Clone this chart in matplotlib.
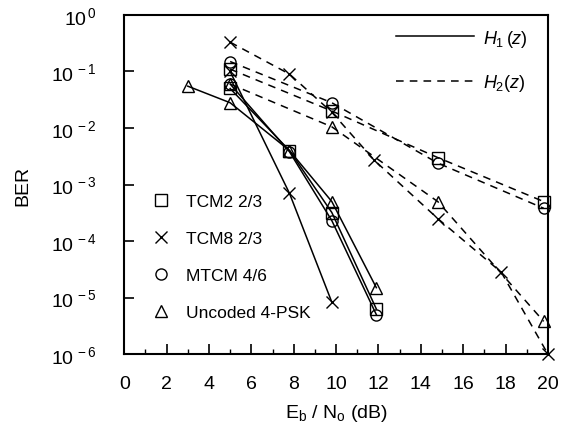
import matplotlib
matplotlib.use("Agg")
import matplotlib.pyplot as plt
from matplotlib.lines import Line2D
from matplotlib.ticker import MultipleLocator, FixedLocator, NullLocator

plt.rcParams["font.family"] = ["Liberation Sans", "DejaVu Sans"]
plt.rcParams["mathtext.fontset"] = "custom"
plt.rcParams["mathtext.rm"] = "Liberation Sans"
plt.rcParams["mathtext.it"] = "Liberation Sans:italic"

# H1(z) curves (solid)
x_tcm2_h1 = [5, 7.8, 9.8, 11.9]
ber_tcm2_h1 = [0.05, 0.004, 3.2e-4, 6.3e-6]
x_tcm8_h1 = [5, 7.8, 9.8]
ber_tcm8_h1 = [0.1, 7e-4, 8.3e-6]
x_mtcm_h1 = [5, 7.8, 9.8, 11.9]
ber_mtcm_h1 = [0.06, 0.0038, 2.3e-4, 5e-6]
x_unc_h1 = [3, 5, 7.8, 9.8, 11.9]
ber_unc_h1 = [0.055, 0.028, 0.004, 5e-4, 1.5e-5]

# H2(z) curves (dashed)
x_tcm2_h2 = [5, 9.8, 14.8, 19.8]
ber_tcm2_h2 = [0.11, 0.02, 0.003, 5e-4]
x_tcm8_h2 = [5, 7.8, 9.8, 11.8, 14.8, 17.8, 20]
ber_tcm8_h2 = [0.33, 0.09, 0.019, 0.0027, 2.5e-4, 2.8e-5, 1e-6]
x_mtcm_h2 = [5, 9.8, 14.8, 19.8]
ber_mtcm_h2 = [0.15, 0.028, 0.0024, 3.8e-4]
x_unc_h2 = [5, 9.8, 14.8, 19.8]
ber_unc_h2 = [0.06, 0.0105, 5e-4, 3.8e-6]

labels = ["TCM2 2/3", "TCM8 2/3", "MTCM 4/6", "Uncoded 4-PSK"]
markers = ["s", "x", "o", "^"]

fig = plt.figure(figsize=(5.62, 4.31), dpi=100)
ax = fig.add_axes([0.221, 0.176, 0.754, 0.787])

sty = dict(color="black", mfc="none", mec="black", ms=8, mew=1.0, lw=1.1, clip_on=False)
solid = [(x_tcm2_h1, ber_tcm2_h1), (x_tcm8_h1, ber_tcm8_h1), (x_mtcm_h1, ber_mtcm_h1), (x_unc_h1, ber_unc_h1)]
dashed = [(x_tcm2_h2, ber_tcm2_h2), (x_tcm8_h2, ber_tcm8_h2), (x_mtcm_h2, ber_mtcm_h2), (x_unc_h2, ber_unc_h2)]
for (x, y), m in zip(solid, markers):
    ax.semilogy(x, y, marker=m, ls="-", **sty)
for (x, y), m in zip(dashed, markers):
    ax.semilogy(x, y, marker=m, ls=(0, (5, 4)), **sty)

ax.set_xlim(0, 20)
ax.set_ylim(1e-6, 1)

ax.xaxis.set_major_locator(MultipleLocator(2))
ax.xaxis.set_minor_locator(MultipleLocator(1))
ax.yaxis.set_major_locator(FixedLocator([10.0 ** k for k in range(-6, 1)]))
ax.yaxis.set_minor_locator(NullLocator())
ax.set_yticklabels([r"10$^{\,%d}$" % k for k in range(-6, 1)])
ax.tick_params(axis="both", which="major", direction="in", length=7, width=1.2,
               labelsize=14, top=False, right=False)
ax.tick_params(axis="x", which="minor", direction="in", length=3.5, width=1.0, top=False)
ax.tick_params(axis="x", which="major", pad=15)
ax.tick_params(axis="y", which="major", pad=20)
for s in ax.spines.values():
    s.set_linewidth(1.5)

ax.set_ylabel("BER", fontsize=14, labelpad=14)
ax.set_xlabel(r"E$_\mathregular{b}$ / N$_\mathregular{o}$ (dB)", fontsize=14, labelpad=7)

# marker legend
mk_handles = [Line2D([], [], ls="none", marker=m, mfc="none", mec="black", ms=8, mew=1.0)
              for m in markers]
leg1 = ax.legend(mk_handles, labels, loc="lower left", bbox_to_anchor=(0.03, 0.055),
                 frameon=False, fontsize=12.5, handlelength=1.0, handletextpad=0.9,
                 labelspacing=1.25)
ax.add_artist(leg1)

# line-style legend
ln_handles = [Line2D([], [], color="black", lw=1.1, ls="-"),
              Line2D([], [], color="black", lw=1.1, ls=(0, (5, 4)))]
ax.legend(ln_handles, [r"$H_1\,(z)$", r"$H_2(z)$"], loc="upper right",
          bbox_to_anchor=(0.99, 1.01), frameon=False, fontsize=13,
          handlelength=4.3, handletextpad=0.5, labelspacing=1.3)

fig.savefig("out.png", dpi=100)
